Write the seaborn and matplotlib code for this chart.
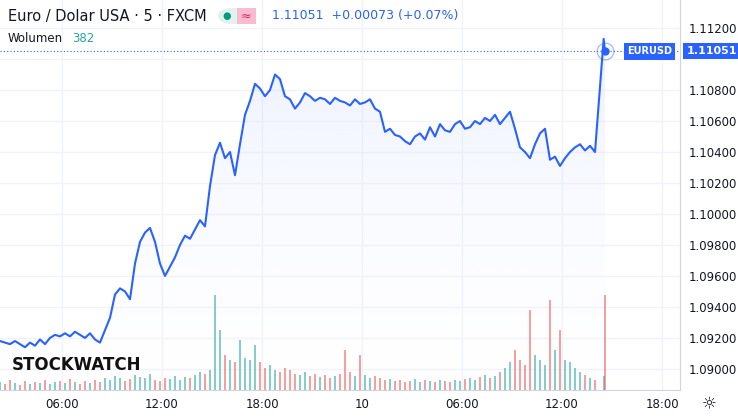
import numpy as np
import pandas as pd
import matplotlib
matplotlib.use("Agg")
import matplotlib.pyplot as plt
import seaborn as sns
from matplotlib.patches import FancyBboxPatch
from matplotlib.colors import LinearSegmentedColormap

price = [1.0918,1.0917,1.0916,1.0918,1.0916,1.0914,1.0917,1.0915,1.0919,1.0916,
         1.0920,1.0922,1.0921,1.0923,1.0921,1.0924,1.0922,1.0920,1.0923,1.0919,
         1.0917,1.0925,1.0933,1.0948,1.0952,1.0950,1.0945,1.0968,1.0982,1.0988,
         1.0991,1.0982,1.0968,1.0960,1.0966,1.0972,1.0980,1.0986,1.0984,1.0990,
         1.0996,1.0992,1.1018,1.1038,1.1046,1.1036,1.1040,1.1025,1.1045,1.1064,
         1.1073,1.1084,1.1081,1.1076,1.1080,1.1090,1.1087,1.1076,1.1074,1.1068,
         1.1072,1.1078,1.1076,1.1073,1.1075,1.1074,1.1071,1.1075,1.1073,1.1072,
         1.1070,1.1074,1.1071,1.1072,1.1074,1.1068,1.1066,1.1053,1.1055,1.1051,
         1.1050,1.1047,1.1045,1.1050,1.1052,1.1048,1.1056,1.1050,1.1058,1.1054,
         1.1053,1.1058,1.1060,1.1055,1.1056,1.1060,1.1058,1.1062,1.1060,1.1064,
         1.1058,1.1062,1.1066,1.1055,1.1043,1.1040,1.1036,1.1045,1.1052,1.1055,
         1.1035,1.1037,1.1031,1.1036,1.1040,1.1043,1.1045,1.1041,1.1044,1.1040,
         1.1113,1.11051]
volume = [8,6,10,7,5,9,6,8,7,10,6,8,9,7,11,8,6,9,7,10,
          8,12,10,14,12,9,11,15,13,12,16,10,9,12,11,14,10,13,12,15,
          18,16,20,95,60,35,30,28,50,32,30,45,28,22,25,20,18,22,20,16,
          15,18,14,16,13,15,12,14,16,40,18,14,35,15,12,14,12,10,11,9,
          10,8,9,11,8,10,9,8,10,9,8,10,9,11,12,10,13,15,12,14,
          18,22,28,40,30,25,80,35,30,25,90,40,60,30,28,22,18,15,12,10,
          14,95]
tick_hours = [6, 12, 18, 24, 30, 36, 42]
tick_labels = ["06:00", "12:00", "18:00", "10", "06:00", "12:00", "18:00"]
price_ticks = [1.090,1.092,1.094,1.096,1.098,1.100,1.102,1.104,1.106,1.108,1.110,1.112]
price_labels = ["1.09000","1.09200","1.09400","1.09600","1.09800","1.10000","1.10200",
                "1.10400","1.10600","1.10800","","1.11200"]

start_h, step_h = 2.28, 0.3
n = len(price)
hours = start_h + step_h*np.arange(n)
hours[-2] = hours[-1] - 0.08
df = pd.DataFrame({"h": hours, "price": price, "vol": volume})

W, H = 738, 417
fig = plt.figure(figsize=(W/100, H/100), dpi=100)
ax = fig.add_axes([0, 27/H, 680/W, 1-27/H])
ylo, yhi = 1.08864, 1.11381
xlo, xhi = start_h, start_h + 680*0.06
ax.set_xlim(xlo, xhi); ax.set_ylim(ylo, yhi)

for t in price_ticks:
    ax.axhline(t, color="#f0f3fa", lw=1, zorder=0)
for t in tick_hours:
    ax.axvline(t, color="#f0f3fa", lw=1, zorder=0)

grad = np.linspace(0.3, 0.02, 256).reshape(-1, 1)
cmap = LinearSegmentedColormap.from_list("g", [(1,1,1,0), (0.16,0.38,1.0,1)])
im = ax.imshow(grad, extent=[xlo, xhi, ylo, max(price)], origin="upper", aspect="auto",
               cmap=cmap, vmin=0, vmax=1, zorder=1)
poly = ax.fill_between(df.h, df.price, ylo, color="none")
im.set_clip_path(poly.get_paths()[0], transform=ax.transData)

vax = ax.twinx()
vax.set_ylim(0, max(volume)*4.1)
vax.set_axis_off()
cols = ["#26a69a" if i == 0 or price[i] >= price[i-1] else "#ef5350" for i in range(n)]
vax.bar(df.h, df.vol, width=0.13, color=cols, alpha=0.55, zorder=2)

sns.lineplot(data=df, x="h", y="price", ax=ax, color="#2962ff", lw=1.5, zorder=3)
last = price[-1]
ax.axhline(last, color="#2962ff", lw=0.8, ls=(0, (1, 2)), zorder=2)
ax.plot(hours[-1], last, "o", ms=5, color="#2962ff", zorder=4)
ax.plot(hours[-1], last, "o", ms=12, mfc="none", mec="#2962ff", alpha=0.4, zorder=4)

ax.set_xticks(tick_hours); ax.set_xticklabels(tick_labels)
ax.yaxis.tick_right()
ax.set_yticks(price_ticks)
ax.set_yticklabels(price_labels)
ax.tick_params(length=0, labelsize=8.5, colors="#131722", pad=6)
ax.set_xlabel(""); ax.set_ylabel("")
for s in ["top", "left"]:
    ax.spines[s].set_visible(False)
for s in ["right", "bottom"]:
    ax.spines[s].set_color("#d1d4dc")

fig.text(8/W, 1-16/H, "Euro / Dolar USA · 5 · FXCM", fontsize=10.5, color="#131722", va="center")
fig.patches.append(FancyBboxPatch((218/W, 1-24/H), 38/W, 16/H, boxstyle="round,pad=0,rounding_size=0.02",
                                  transform=fig.transFigure, fc="#e0f2ef", ec="none"))
fig.patches.append(FancyBboxPatch((237/W, 1-24/H), 19/W, 16/H, boxstyle="round,pad=0",
                                  transform=fig.transFigure, fc="#f8bbd0", ec="none"))
fig.text(227/W, 1-16/H, "●", fontsize=7, color="#089981", ha="center", va="center")
fig.text(246/W, 1-16/H, "≈", fontsize=9, color="#e91e63", ha="center", va="center")
fig.text(272/W, 1-16/H, "1.11051  +0.00073 (+0.07%)", fontsize=9, color="#2962ff", va="center")
fig.text(8/W, 1-39/H, "Wolumen", fontsize=8.5, color="#131722", va="center")
fig.text(72/W, 1-39/H, "382", fontsize=8.5, color="#26a69a", va="center")
fig.text(12/W, 1-365/H, "STOCKWATCH", fontsize=12, fontweight="bold", color="#111111", va="center")

ax.text(0.922, last, "EURUSD", transform=ax.get_yaxis_transform(), fontsize=7, color="white",
        fontweight="bold", va="center", bbox=dict(fc="#2962ff", ec="none", boxstyle="square,pad=0.35"))
ax.text(1.01, last, "1.11051", transform=ax.get_yaxis_transform(), fontsize=8, color="white",
        fontweight="bold", va="center", ha="left",
        bbox=dict(fc="#2962ff", ec="none", boxstyle="square,pad=0.3"))
fig.text(709/W, 1-404/H, "☼", fontsize=12, color="#131722", ha="center", va="center")

fig.savefig("out.png", dpi=100)
